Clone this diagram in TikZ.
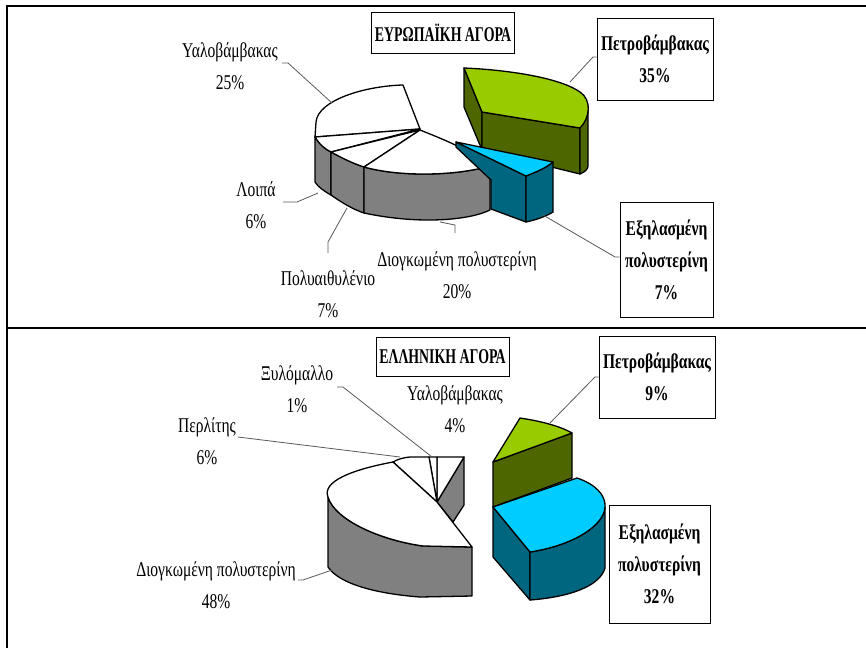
\documentclass[tikz,border=0pt]{standalone}
\usepackage{fontspec}
\setmainfont{Liberation Serif}[FakeStretch=0.74]
\newfontfamily\titlefont{Liberation Serif}[FakeStretch=0.66]
\definecolor{lgreen}{RGB}{153,204,0}
\definecolor{dgreen}{RGB}{77,102,0}
\definecolor{lcyan}{RGB}{0,204,255}
\definecolor{dteal}{RGB}{0,102,128}
\definecolor{pgray}{RGB}{128,128,128}
\definecolor{leadc}{RGB}{90,90,90}
\begin{document}
\begin{tikzpicture}[x=1pt,y=-1pt,
  face/.style={draw=black,line width=1.3pt,line join=round},
  lbl/.style={font=\fontsize{21}{32}\selectfont,align=center,inner sep=0pt},
  boxlbl/.style={font=\bfseries\fontsize{21}{32}\selectfont,align=center,draw=black,line width=0.9pt,inner sep=0pt},
  titlebox/.style={font=\titlefont\bfseries\fontsize{21}{32}\selectfont,align=center,draw=black,line width=0.9pt,inner sep=0pt},
  leader/.style={draw=leadc,line width=0.8pt},
  frameline/.style={draw=black,line width=1.6pt}]
\useasboundingbox (0,0) rectangle (866,648);
\fill[white] (0,0) rectangle (866,648);
% frame
\draw[frameline] (7,648) -- (7,6) -- (866,6);
\draw[frameline] (7,328) -- (866,328);

% ================= TOP PIE (European market) =================
% gray sides
\draw[face,fill=pgray] (315,137) .. controls (320,145) and (325,149) .. (331,152) -- (331,195) .. controls (324,191) and (318,187) .. (315,182) -- cycle;
\draw[face,fill=pgray] (331,152) .. controls (342,158) and (352,163) .. (364,167) -- (364,213) .. controls (352,209) and (341,202) .. (331,195) -- cycle;
\draw[face,fill=pgray] (364,167) .. controls (400,177) and (455,176) .. (490,166) -- (490,210) .. controls (470,220) and (420,225) .. (364,213) -- cycle;
% white top faces
\draw[face,fill=white] (420,129) -- (403,85) .. controls (365,86) and (318,100) .. (316,122) -- (315,137) -- cycle;
\draw[face,fill=white] (315,137) -- (420,129) -- (331,152) .. controls (325,149) and (320,145) .. (315,137) -- cycle;
\draw[face,fill=white] (331,152) -- (420,130) -- (364,167) .. controls (352,163) and (342,158) .. (331,152) -- cycle;
\draw[face,fill=white] (364,167) -- (420,130) .. controls (445,140) and (470,150) .. (490,166) .. controls (455,176) and (400,177) .. (364,167) -- cycle;
% green block
\draw[face,fill=dgreen] (464,68) -- (482,112) -- (482,150) -- (464,107) -- cycle;
\draw[face,fill=dgreen] (482,112) -- (580,128) -- (580,174) -- (482,150) -- cycle;
\draw[face,fill=dgreen] (588,106) .. controls (587,115) and (584,123) .. (580,128) -- (580,174) .. controls (585,172) and (588,169) .. (588,166) -- cycle;
\draw[face,fill=lgreen] (464,68) .. controls (510,70) and (560,78) .. (580,92) .. controls (592,100) and (590,118) .. (580,128) -- (482,112) -- cycle;
% blue wedge
\draw[face,fill=dteal] (456,142) -- (456,147) -- (491,180) -- (491,209) -- (526,222) -- (526,176) -- cycle;
\draw[face,fill=dteal] (526,176) .. controls (536,172) and (546,168) .. (553,162) -- (553,212) .. controls (545,217) and (535,220) .. (526,222) -- cycle;
\draw[face,fill=lcyan] (456,142) -- (553,162) .. controls (546,168) and (536,172) .. (526,176) -- cycle;

% title
\node[titlebox,minimum width=143pt,minimum height=41pt] (eutitle) at (443,32.5) {ΕΥΡΩΠΑΪΚΗ ΑΓΟΡΑ};
% labels
\node[lbl] (euyalo) at (230,66) {Υαλοβάμβακας\\25\%};
\node[lbl] (euloipa) at (256,205) {Λοιπά\\6\%};
\node[lbl] (eupoly) at (328,294) {Πολυαιθυλένιο\\7\%};
\node[lbl] (eudiog) at (457,275) {Διογκωμένη πολυστερίνη\\20\%};
\node[boxlbl,minimum width=116pt,minimum height=82pt] (eupetro) at (655,59) {Πετροβάμβακας\\35\%};
\node[boxlbl,minimum width=93pt,minimum height=115pt] (euexil) at (666.5,259.5) {Εξηλασμένη\\πολυστερίνη\\7\%};
% leader coordinates
\coordinate (a1) at (282,63); \coordinate (a2) at (288,63); \coordinate (a3) at (332,103);
\coordinate (b1) at (283,202); \coordinate (b2) at (297,202); \coordinate (b3) at (318,193);
\coordinate (c1) at (328,253); \coordinate (c2) at (328,242); \coordinate (c3) at (347,208);
\coordinate (d1) at (455,233); \coordinate (d2) at (455,225); \coordinate (d3) at (440,222);
\coordinate (e1) at (593,57); \coordinate (e2) at (570,82);
\coordinate (f1) at (615,257); \coordinate (f2) at (543,215);
\draw[leader] (a1) -- (a2) -- (a3);
\draw[leader] (b1) -- (b2) -- (b3);
\draw[leader] (c1) -- (c2) -- (c3);
\draw[leader] (d1) -- (d2) -- (d3);
\draw[leader] (eupetro.west |- e1) -- (e1) -- (e2);
\draw[leader] (euexil.west |- f1) -- (f1) -- (f2);

% ================= BOTTOM PIE (Greek market) =================
% gray sides
\draw[face,fill=pgray] (328,497) .. controls (335,520) and (380,540) .. (423,546) -- (472,547) -- (472,596) -- (420,597) .. controls (380,594) and (340,585) .. (328,567) -- cycle;
\draw[face,fill=pgray] (464,457) -- (464,505) -- (453,522) -- (437,502) -- cycle;
% white top faces
\draw[face,fill=white] (437,457) -- (464,457) -- (437,502) -- cycle;
\draw[face,fill=white] (429,457) -- (437,457) -- (437,502) -- cycle;
\draw[face,fill=white] (393,462) .. controls (398,459) and (404,457.5) .. (410,457) -- (429,457) -- (437,502) -- cycle;
\draw[face,fill=white] (437,502) -- (393,462) .. controls (350,470) and (322,482) .. (328,497) .. controls (335,520) and (380,540) .. (423,546) -- (472,547) -- cycle;
% green block
\draw[face,fill=dgreen] (493,462) -- (572,433) -- (572,478) -- (493,507) -- cycle;
\draw[face,fill=lgreen] (520,418) .. controls (540,421) and (560,426) .. (572,433) -- (493,462) -- cycle;
% blue block
\draw[face,fill=dteal] (493,507) -- (530,552) -- (530,600) -- (493,557) -- cycle;
\draw[face,fill=dteal] (530,552) .. controls (575,545) and (604,525) .. (605,507) -- (605,568) .. controls (600,586) and (570,597) .. (530,600) -- cycle;
\draw[face,fill=lcyan] (493,507) -- (577,478) .. controls (595,484) and (606,495) .. (605,507) .. controls (604,525) and (575,545) .. (530,552) -- cycle;

% title
\node[titlebox,minimum width=133pt,minimum height=39pt] (grtitle) at (442.5,356.5) {ΕΛΛΗΝΙΚΗ ΑΓΟΡΑ};
% labels
\node[lbl] (grxylo) at (297,389) {Ξυλόμαλλο\\1\%};
\node[lbl] (gryalo) at (455,409) {Υαλοβάμβακας\\4\%};
\node[lbl] (grperl) at (207,441) {Περλίτης\\6\%};
\node[lbl] (grdiog) at (216,585) {Διογκωμένη πολυστερίνη\\48\%};
\node[boxlbl,minimum width=116pt,minimum height=82pt] (grpetro) at (657,377) {Πετροβάμβακας\\9\%};
\node[boxlbl,minimum width=101pt,minimum height=118pt] (grexil) at (659.5,564) {Εξηλασμένη\\πολυστερίνη\\32\%};
% leaders
\coordinate (g1) at (337,387); \coordinate (g2) at (343,387); \coordinate (g3) at (432,457);
\coordinate (h1) at (238,437); \coordinate (h2) at (400,457);
\coordinate (i1) at (298,580); \coordinate (i2) at (303,580); \coordinate (i3) at (332,570);
\coordinate (j1) at (595,377); \coordinate (j2) at (550,423);
\draw[leader] (g1) -- (g2) -- (g3);
\draw[leader] (h1) -- (h2);
\draw[leader] (i1) -- (i2) -- (i3);
\draw[leader] (grpetro.west |- j1) -- (j1) -- (j2);
\end{tikzpicture}
\end{document}
